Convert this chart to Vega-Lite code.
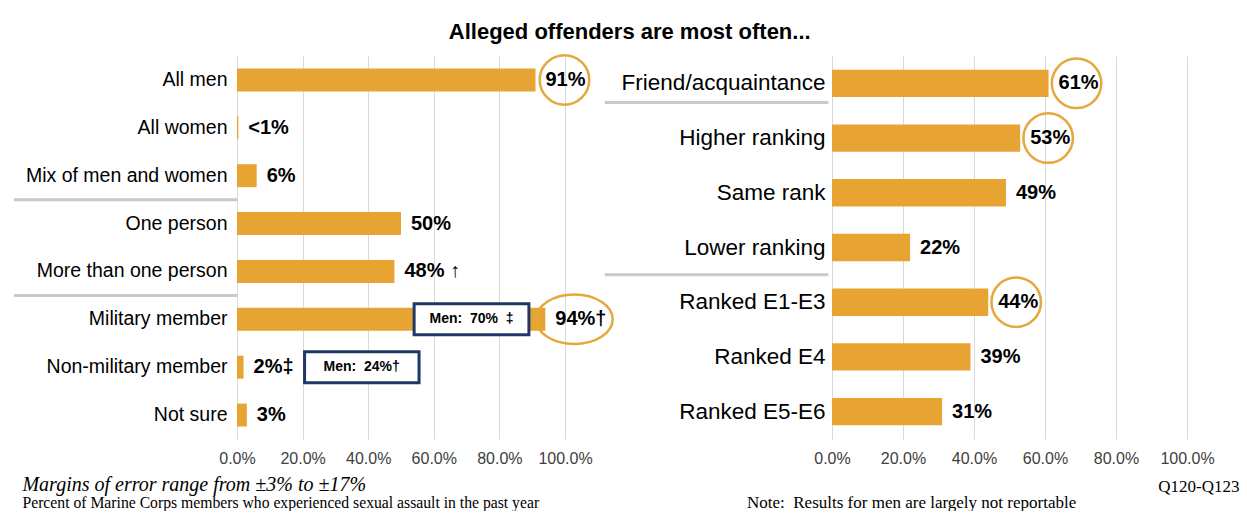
{
  "$schema": "https://vega.github.io/schema/vega-lite/v6.json",
  "background": "white",
  "padding": {"left": 12, "top": 21, "right": 5, "bottom": 0},
  "title": {"text": "Alleged offenders are most often...", "font": "Liberation Sans", "fontSize": 22, "fontWeight": "bold", "color": "black", "anchor": "middle", "offset": 6, "dx": 4},
  "config": {
    "view": {"stroke": null},
    "axisY": {"domain": false, "ticks": false, "title": null, "labelFont": "Liberation Sans", "labelColor": "black", "labelLimit": 320, "grid": false},
    "axisX": {"domain": false, "ticks": false, "labelFont": "Liberation Sans", "labelFontSize": 16, "labelColor": "#404040", "labelPadding": 11, "grid": true, "gridColor": "#D9D9D9", "gridWidth": 1, "labelOverlap": false, "labelFlush": false}
  },
  "datasets": {
    "left": [
      {"category": "All men", "value": 91, "label": "91%", "significant": true},
      {"category": "All women", "value": 0.4, "label": "<1%", "significant": false},
      {"category": "Mix of men and women", "value": 6, "label": "6%", "significant": false},
      {"category": "One person", "value": 50, "label": "50%", "significant": false},
      {"category": "More than one person", "value": 48, "label": "48% ↑", "significant": false},
      {"category": "Military member", "value": 94, "label": "94%†", "significant": true},
      {"category": "Non-military member", "value": 2, "label": "2%‡", "significant": false},
      {"category": "Not sure", "value": 3, "label": "3%", "significant": false}
    ],
    "right": [
      {"category": "Friend/acquaintance", "value": 61, "label": "61%", "significant": true},
      {"category": "Higher ranking", "value": 53, "label": "53%", "significant": true},
      {"category": "Same rank", "value": 49, "label": "49%", "significant": false},
      {"category": "Lower ranking", "value": 22, "label": "22%", "significant": false},
      {"category": "Ranked E1-E3", "value": 44, "label": "44%", "significant": true},
      {"category": "Ranked E4", "value": 39, "label": "39%", "significant": false},
      {"category": "Ranked E5-E6", "value": 31, "label": "31%", "significant": false}
    ]
  },
  "spacing": 267,
  "bounds": "flush",
  "hconcat": [
    {
      "width": 328,
      "height": 383,
      "data": {"name": "left"},
      "title": {
        "text": "Margins of error range from ±3% to ±17%",
        "subtitle": "Percent of Marine Corps members who experienced sexual assault in the past year",
        "orient": "bottom", "anchor": "start", "frame": "bounds", "dx": 10, "offset": 9,
        "font": "Liberation Serif", "fontStyle": "italic", "fontWeight": "normal", "fontSize": 20, "color": "black",
        "subtitleFont": "Liberation Serif", "subtitleFontSize": 15.7, "subtitleColor": "black", "subtitlePadding": 1
      },
      "encoding": {
        "y": {"field": "category", "type": "nominal", "sort": null, "scale": {"paddingInner": 0, "paddingOuter": 0}, "axis": {"labelPadding": 10, "labelFontSize": 19.5}}
      },
      "layer": [
        {
          "mark": {"type": "bar", "color": "#E7A433", "height": {"band": 0.48}},
          "encoding": {"x": {"field": "value", "type": "quantitative", "scale": {"domain": [0, 100]}, "axis": {"title": null, "values": [0, 20, 40, 60, 80, 100], "labelExpr": "format(datum.value, '.1f') + '%'"}}}
        },
        {
          "mark": {"type": "text", "align": "left", "baseline": "middle", "dx": 10, "font": "Liberation Sans", "fontSize": 20, "fontWeight": "bold", "color": "black"},
          "encoding": {"x": {"field": "value", "type": "quantitative"}, "text": {"field": "label"}}
        },
        {
          "transform": [{"filter": "datum.significant"}],
          "mark": {"type": "point", "filled": false, "stroke": "#E5A83A", "strokeWidth": 2.5, "opacity": 1, "size": 2450, "xOffset": 29},
          "encoding": {
            "x": {"field": "value", "type": "quantitative"},
            "shape": {"condition": {"test": "datum.category == 'Military member'", "value": "M-1.55,0A1.55,1 0 1,0 1.55,0A1.55,1 0 1,0 -1.55,0Z"}, "value": "M-1,0A1,1 0 1,0 1,0A1,1 0 1,0 -1,0Z"}
          }
        },
        {
          "transform": [{"filter": "datum.category == 'Mix of men and women' || datum.category == 'More than one person'"}],
          "mark": {"type": "rule", "color": "#C9C9C9", "strokeWidth": 3},
          "encoding": {
            "y": {"field": "category", "type": "nominal", "bandPosition": 1},
            "x": {"datum": -68},
            "x2": {"datum": 0}
          }
        },
        {
          "data": {"values": [{}]},
          "mark": {"type": "bar", "fill": "white", "stroke": "#1F3864", "strokeWidth": 3, "height": 31},
          "encoding": {"y": {"datum": "Military member", "type": "nominal"}, "x": {"datum": 54}, "x2": {"datum": 89}}
        },
        {
          "data": {"values": [{}]},
          "mark": {"type": "text", "align": "center", "baseline": "middle", "font": "Liberation Sans", "fontSize": 14, "fontWeight": "bold", "color": "black"},
          "encoding": {"y": {"datum": "Military member", "type": "nominal"}, "x": {"datum": 71.5}, "text": {"value": "Men:\u00a0 70%\u00a0 ‡"}}
        },
        {
          "data": {"values": [{}]},
          "mark": {"type": "bar", "fill": "white", "stroke": "#1F3864", "strokeWidth": 3, "height": 31},
          "encoding": {"y": {"datum": "Non-military member", "type": "nominal"}, "x": {"datum": 20.6}, "x2": {"datum": 55.5}}
        },
        {
          "data": {"values": [{}]},
          "mark": {"type": "text", "align": "center", "baseline": "middle", "font": "Liberation Sans", "fontSize": 14, "fontWeight": "bold", "color": "black"},
          "encoding": {"y": {"datum": "Non-military member", "type": "nominal"}, "x": {"datum": 38}, "text": {"value": "Men:\u00a0 24%†"}}
        }
      ]
    },
    {
      "width": 355,
      "height": 383,
      "data": {"name": "right"},
      "title": {
        "text": "Note:\u00a0 Results for men are largely not reportable",
        "orient": "bottom", "anchor": "start", "frame": "group", "dx": -85, "offset": 1,
        "font": "Liberation Serif", "fontWeight": "normal", "fontSize": 17, "color": "black"
      },
      "encoding": {
        "y": {"field": "category", "type": "nominal", "sort": null, "scale": {"paddingInner": 0, "paddingOuter": 0}, "axis": {"labelPadding": 7, "labelFontSize": 22.5}}
      },
      "layer": [
        {
          "mark": {"type": "bar", "color": "#E7A433", "height": {"band": 0.5}},
          "encoding": {"x": {"field": "value", "type": "quantitative", "scale": {"domain": [0, 100]}, "axis": {"values": [0, 20, 40, 60, 80, 100], "labelExpr": "format(datum.value, '.1f') + '%'", "title": "Q120-Q123", "titleFont": "Liberation Serif", "titleFontWeight": "normal", "titleFontSize": 17, "titleColor": "black", "titleAnchor": "end", "titleAlign": "right", "titleX": 407, "titlePadding": 12}}}
        },
        {
          "mark": {"type": "text", "align": "left", "baseline": "middle", "dx": 10, "font": "Liberation Sans", "fontSize": 20, "fontWeight": "bold", "color": "black"},
          "encoding": {"x": {"field": "value", "type": "quantitative"}, "text": {"field": "label"}}
        },
        {
          "transform": [{"filter": "datum.significant"}],
          "mark": {"type": "point", "filled": false, "stroke": "#E5A83A", "strokeWidth": 2.5, "opacity": 1, "size": 2450, "xOffset": 28, "shape": "M-1,0A1,1 0 1,0 1,0A1,1 0 1,0 -1,0Z"},
          "encoding": {"x": {"field": "value", "type": "quantitative"}}
        },
        {
          "transform": [{"filter": "datum.category == 'Friend/acquaintance'"}],
          "mark": {"type": "rule", "color": "#C9C9C9", "strokeWidth": 3},
          "encoding": {
            "y": {"field": "category", "type": "nominal", "bandPosition": 0.85},
            "x": {"datum": -64},
            "x2": {"datum": -1}
          }
        },
        {
          "transform": [{"filter": "datum.category == 'Lower ranking'"}],
          "mark": {"type": "rule", "color": "#C9C9C9", "strokeWidth": 3},
          "encoding": {
            "y": {"field": "category", "type": "nominal", "bandPosition": 1},
            "x": {"datum": -64},
            "x2": {"datum": -1}
          }
        }
      ]
    }
  ]
}
